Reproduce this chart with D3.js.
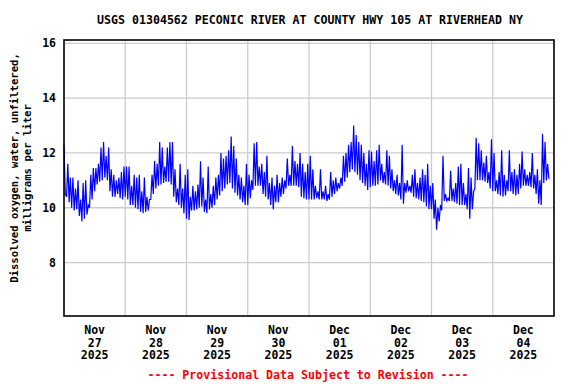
<!DOCTYPE html>
<html>
<head>
<meta charset="utf-8">
<script src="https://cdn.jsdelivr.net/npm/d3@7"></script>
<style>
  body { margin: 0; background: #fff; }
  text { font-family: "DejaVu Sans Mono", "Liberation Mono", monospace; font-weight: bold; }
</style>
</head>
<body>
<script>
// dissolved oxygen, mg/L as [low, high] pairs per hour
var nov27 = [12.3,10.5, 10.4,11.6, 10.2,11.1, 10.0,11.1, 9.9,10.7, 9.95,11.0, 9.7,10.3, 9.5,10.9,
             9.6,11.0, 9.75,10.1, 10.0,11.2, 10.3,11.45, 10.6,11.45, 10.85,11.6, 10.95,12.2, 11.0,12.4,
             11.1,11.9, 11.0,12.2, 10.6,11.4, 10.4,11.2, 10.4,11.0, 10.5,11.1, 10.35,11.3, 10.3,11.5]
var nov28 = [10.4,11.5, 10.3,11.5, 10.1,10.8, 10.1,11.2, 10.0,11.1, 9.95,11.2, 9.85,10.6, 9.8,11.1,
             9.85,10.4, 9.9,10.3, 10.3,11.2, 10.5,11.7, 10.7,11.6, 10.8,12.4, 10.85,12.2, 10.9,11.5,
             10.95,12.2, 10.95,12.4, 10.85,12.4, 10.4,11.4, 10.2,10.7, 10.1,11.6, 10.0,10.7, 9.8,11.2]
var nov29 = [9.6,11.4, 9.55,10.4, 9.9,10.8, 9.9,10.6, 9.95,10.85, 10.0,11.7, 10.05,11.1, 9.85,10.3,
             9.8,11.5, 9.95,10.5, 10.0,10.8, 10.1,11.1, 10.3,11.2, 10.45,12.0, 10.6,11.8, 10.7,11.9,
             10.85,12.1, 10.9,12.6, 10.7,12.25, 10.55,11.8, 10.45,11.2, 10.3,11.1, 10.2,10.8, 10.1,11.6]
var nov30 = [10.1,11.2, 10.35,11.0, 10.65,12.35, 10.8,12.4, 10.8,11.5, 10.8,11.6, 10.5,11.3, 10.4,11.9,
             10.3,10.9, 10.1,11.1, 9.95,10.8, 10.2,11.2, 10.2,10.9, 10.4,11.1, 10.5,11.0, 10.7,11.8,
             10.8,11.2, 10.8,12.25, 10.8,11.7, 10.8,11.6, 10.75,12.0, 10.4,11.6, 10.35,11.3, 10.3,11.6]
var dec01 = [10.3,11.9, 10.3,11.4, 10.3,10.8, 10.35,10.6, 10.3,11.4, 10.3,10.6, 10.3,10.8, 10.25,10.5,
             10.3,11.3, 10.4,11.0, 10.5,11.1, 10.6,10.9, 10.7,11.1, 10.8,11.9, 10.95,12.0, 11.1,12.3,
             11.3,12.4, 11.4,13.0, 11.3,12.65, 11.2,12.4, 11.0,12.3, 10.9,12.0, 10.8,11.6, 10.65,12.1]
var dec02 = [10.75,12.05, 10.8,11.7, 10.8,12.1, 10.85,12.3, 11.0,11.6, 10.9,11.3, 10.85,12.1, 10.8,11.9,
             10.7,11.4, 10.6,11.0, 10.5,11.2, 10.45,10.9, 10.3,12.3, 10.15,10.9, 10.55,11.0, 10.6,10.8,
             10.55,11.2, 10.4,11.4, 10.35,10.9, 10.3,11.1, 10.25,11.4, 10.2,11.2, 10.05,11.6, 9.95,10.8]
var dec03 = [9.95,10.9, 9.6,10.3, 9.2,10.0, 9.5,10.1, 9.9,11.9, 10.25,10.5, 10.25,10.35, 10.25,11.35,
             10.25,10.7, 10.2,10.9, 10.15,11.5, 10.1,11.6, 10.1,10.9, 10.1,10.5, 9.95,11.45, 9.6,11.1,
             9.95,10.6, 10.7,12.55, 11.0,12.35, 11.0,12.1, 11.0,11.65, 10.95,11.9, 10.9,11.3, 10.7,12.5]
var dec04 = [10.6,12.0, 10.6,11.0, 10.5,11.3, 10.45,12.1, 10.4,11.2, 10.45,11.0, 10.6,12.1, 10.6,11.3,
             10.5,11.4, 10.45,11.2, 10.5,11.6, 10.7,12.05, 10.8,11.4, 10.8,11.2, 10.8,11.3, 10.75,12.0,
             10.7,11.2, 10.5,11.4, 10.15,11.0, 10.1,12.7, 10.9,12.4, 11.0,11.6, 11.05]

var yTicks = [8, 10, 12, 14, 16]
var dayLabels = [["Nov","27","2025"],["Nov","28","2025"],["Nov","29","2025"],["Nov","30","2025"],
                 ["Dec","01","2025"],["Dec","02","2025"],["Dec","03","2025"],["Dec","04","2025"]]
var title = "USGS 01304562 PECONIC RIVER AT COUNTY HWY 105 AT RIVERHEAD NY"
var yLabel = ["Dissolved oxygen, water, unfiltered,", "milligrams per liter"]
var footNote = "---- Provisional Data Subject to Revision ----"

var start = new Date(2025, 10, 27)
var end = new Date(2025, 11, 5)
var halfHour = 30 * 60 * 1000

var values = [].concat(nov27, nov28, nov29, nov30, dec01, dec02, dec03, dec04)
var series = values.map(function(v, i){
    return {date: new Date(start.getTime() + i * halfHour), value: v}
})

var screen = {width:576, height:384}
var margins = {left:64, right:22, top:40, bottom:68}
var graph = {
    width: screen.width - margins.left - margins.right,
    height: screen.height - margins.top - margins.bottom
}

var xScale = d3.scaleTime().domain([start, end]).range([0, graph.width])
var yScale = d3.scaleLinear().domain([6.05, 16.12]).range([graph.height, 0])

var svg = d3.select("body").append("svg")
    .attr("width", screen.width)
    .attr("height", screen.height)

var plot = svg.append("g")
    .attr("transform", "translate(" + margins.left + "," + margins.top + ")")

// grid
var days = d3.timeDay.range(d3.timeDay.offset(start, 1), end)
plot.selectAll(".vgrid").data(days).enter().append("line")
    .attr("x1", function(d){ return xScale(d) })
    .attr("x2", function(d){ return xScale(d) })
    .attr("y1", 0).attr("y2", graph.height)
    .attr("stroke", "#cccccc").attr("stroke-width", 1.3)

plot.selectAll(".hgrid").data(yTicks).enter().append("line")
    .attr("x1", 0).attr("x2", graph.width)
    .attr("y1", function(d){ return yScale(d) })
    .attr("y2", function(d){ return yScale(d) })
    .attr("stroke", "#cccccc").attr("stroke-width", 1.3)

// data line
var line = d3.line()
    .x(function(d){ return xScale(d.date) })
    .y(function(d){ return yScale(d.value) })

plot.append("path")
    .datum(series)
    .attr("d", line)
    .attr("fill", "none")
    .attr("stroke", "#0000ff")
    .attr("stroke-width", 1.2)

// frame
plot.append("rect")
    .attr("x", 0).attr("y", 0)
    .attr("width", graph.width).attr("height", graph.height)
    .attr("fill", "none").attr("stroke", "#000").attr("stroke-width", 1.6)

// y tick labels
var yAxis = d3.axisLeft(yScale).tickValues(yTicks).tickSize(0).tickPadding(8)
var ya = plot.append("g").call(yAxis)
ya.select(".domain").remove()
ya.selectAll("text")
    .attr("font-size", 11.5)
    .attr("font-family", "DejaVu Sans Mono")
    .attr("font-weight", "bold")
    .attr("fill", "#000")

// x labels at noon of each day
var noons = dayLabels.map(function(d, i){ return d3.timeHour.offset(d3.timeDay.offset(start, i), 12) })
var xl = plot.selectAll(".xlab").data(dayLabels).enter().append("text")
    .attr("text-anchor", "middle")
    .attr("font-size", 11.5)
    .attr("fill", "#000")
    .attr("transform", function(d, i){ return "translate(" + xScale(noons[i]) + "," + (graph.height + 18) + ")" })
xl.selectAll("tspan").data(function(d){ return d }).enter().append("tspan")
    .attr("x", 0)
    .attr("y", function(d, i){ return i * 12.6 })
    .text(function(d){ return d })

// title
svg.append("text")
    .attr("x", margins.left + graph.width / 2 + 1)
    .attr("y", 24)
    .attr("text-anchor", "middle")
    .attr("font-size", 11.6)
    .text(title)

// y axis label
svg.selectAll(".ylab").data(yLabel).enter().append("text")
    .attr("text-anchor", "middle")
    .attr("font-size", 10.6)
    .attr("transform", function(d, i){ return "translate(" + (18 + i * 13) + ",168) rotate(-90)" })
    .text(function(d){ return d })

// provisional note
svg.append("text")
    .attr("x", 308)
    .attr("y", 379)
    .attr("text-anchor", "middle")
    .attr("font-size", 11.6)
    .attr("fill", "#ff0000")
    .text(footNote)
</script>
</body>
</html>
